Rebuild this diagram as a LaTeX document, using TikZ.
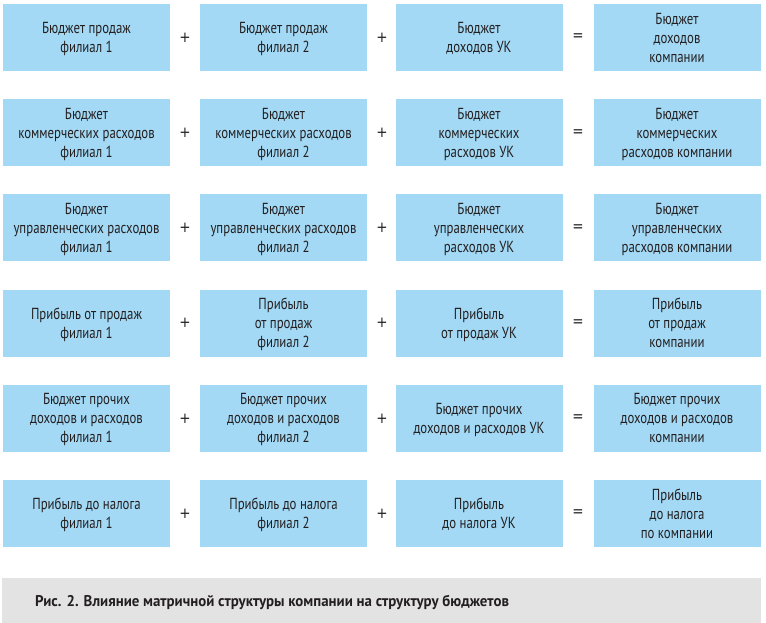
\documentclass[tikz,border=0pt]{standalone}
\usepackage{fontspec}
\setmainfont{PT Sans}[FakeStretch=0.8]
\newfontfamily\capfont{PT Sans Bold}[FakeStretch=0.96]
\newfontfamily\opfont{DejaVu Sans}[FakeStretch=0.9]
\definecolor{boxblue}{HTML}{A3D9F5}
\definecolor{capgrey}{HTML}{E3E3E3}
\definecolor{txt}{HTML}{231F20}
\tikzset{
  bbox/.style={fill=boxblue, draw=none, minimum width=167pt, minimum height=67pt, inner sep=0pt,
    align=center, text=txt, text depth=0pt, font=\fontsize{16}{19}\selectfont},
  opsign/.style={text=txt, font=\opfont\fontsize{15}{16}\selectfont, inner sep=0pt}
}
\begin{document}
\begin{tikzpicture}[x=1pt,y=-1pt]
\useasboundingbox (0,0) rectangle (766,623);
\def\cA{86.5}\def\cB{283.5}\def\cC{479}\def\cD{677}
\def\pA{185}\def\pB{382}\def\pC{578}
% row 1
\node[bbox] (r1a) at (\cA,37.5) {Бюджет продаж\\филиал 1};
\node[bbox] (r1b) at (\cB,37.5) {Бюджет продаж\\филиал 2};
\node[bbox] (r1c) at (\cC,37.5) {Бюджет\\доходов УК};
\node[bbox] (r1d) at (\cD,37.5) {Бюджет\\доходов\\компании};
\node[opsign] (r1p1) at (\pA,37.5) {+};
\node[opsign] (r1p2) at (\pB,37.5) {+};
\node[opsign] (r1eq) at (\pC,37.5) {=};
% row 2
\node[bbox] (r2a) at (\cA,132.7) {Бюджет\\коммерческих расходов\\филиал 1};
\node[bbox] (r2b) at (\cB,132.7) {Бюджет\\коммерческих расходов\\филиал 2};
\node[bbox] (r2c) at (\cC,132.7) {Бюджет\\коммерческих\\расходов УК};
\node[bbox] (r2d) at (\cD,132.7) {Бюджет\\коммерческих\\расходов компании};
\node[opsign] (r2p1) at (\pA,132.7) {+};
\node[opsign] (r2p2) at (\pB,132.7) {+};
\node[opsign] (r2eq) at (\pC,132.7) {=};
% row 3
\node[bbox] (r3a) at (\cA,227.9) {Бюджет\\управленческих расходов\\филиал 1};
\node[bbox] (r3b) at (\cB,227.9) {Бюджет\\управленческих расходов\\филиал 2};
\node[bbox] (r3c) at (\cC,227.9) {Бюджет\\управленческих\\расходов УК};
\node[bbox] (r3d) at (\cD,227.9) {Бюджет\\управленческих\\расходов компании};
\node[opsign] (r3p1) at (\pA,227.9) {+};
\node[opsign] (r3p2) at (\pB,227.9) {+};
\node[opsign] (r3eq) at (\pC,227.9) {=};
% row 4
\node[bbox] (r4a) at (\cA,323.1) {Прибыль от продаж\\филиал 1};
\node[bbox] (r4b) at (\cB,323.1) {Прибыль\\от продаж\\филиал 2};
\node[bbox] (r4c) at (\cC,323.1) {Прибыль\\от продаж УК};
\node[bbox] (r4d) at (\cD,323.1) {Прибыль\\от продаж\\компании};
\node[opsign] (r4p1) at (\pA,323.1) {+};
\node[opsign] (r4p2) at (\pB,323.1) {+};
\node[opsign] (r4eq) at (\pC,323.1) {=};
% row 5
\node[bbox] (r5a) at (\cA,418.3) {Бюджет прочих\\доходов и расходов\\филиал 1};
\node[bbox] (r5b) at (\cB,418.3) {Бюджет прочих\\доходов и расходов\\филиал 2};
\node[bbox] (r5c) at (\cC,418.3) {Бюджет прочих\\доходов и расходов УК};
\node[bbox] (r5d) at (\cD,418.3) {Бюджет прочих\\доходов и расходов\\компании};
\node[opsign] (r5p1) at (\pA,418.3) {+};
\node[opsign] (r5p2) at (\pB,418.3) {+};
\node[opsign] (r5eq) at (\pC,418.3) {=};
% row 6
\node[bbox] (r6a) at (\cA,513.5) {Прибыль до налога\\филиал 1};
\node[bbox] (r6b) at (\cB,513.5) {Прибыль до налога\\филиал 2};
\node[bbox] (r6c) at (\cC,513.5) {Прибыль\\до налога УК};
\node[bbox] (r6d) at (\cD,513.5) {Прибыль\\до налога\\по компании};
\node[opsign] (r6p1) at (\pA,513.5) {+};
\node[opsign] (r6p2) at (\pB,513.5) {+};
\node[opsign] (r6eq) at (\pC,513.5) {=};
% caption
\fill[capgrey] (2,578) rectangle (761,623);
\node[anchor=west, text=txt, font=\capfont\fontsize{15.5}{18}\selectfont, inner sep=0pt] (cap) at (35,602)
  {Рис. 2. Влияние матричной структуры компании на структуру бюджетов};
\end{tikzpicture}
\end{document}
